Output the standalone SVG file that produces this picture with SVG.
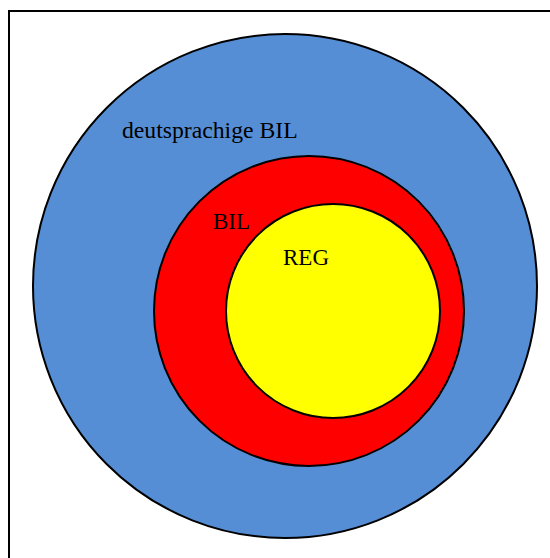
<svg xmlns="http://www.w3.org/2000/svg" width="550" height="558" viewBox="0 0 550 558">
<style>
.c{stroke:#000;stroke-width:2}
.t{font-family:"Liberation Serif","Times New Roman",serif;font-size:23px;fill:#000}
</style>
<rect x="0" y="0" width="550" height="558" fill="#fff"/>
<rect x="9" y="11" width="560" height="570" fill="none" stroke="#000" stroke-width="2"/>
<g id="outer">
<circle class="c" cx="285" cy="286" r="252" fill="#558ed5"/>
<text class="t" x="122" y="138" style="font-size:23.7px">deutsprachige BIL</text>
</g>
<g id="bil">
<circle class="c" cx="309" cy="311" r="155" fill="#ff0000"/>
<text class="t" x="213" y="229">BIL</text>
</g>
<g id="reg">
<circle class="c" cx="333" cy="311" r="107" fill="#ffff00"/>
<text class="t" x="283" y="265">REG</text>
</g>
<g id="connectors"/>
</svg>
